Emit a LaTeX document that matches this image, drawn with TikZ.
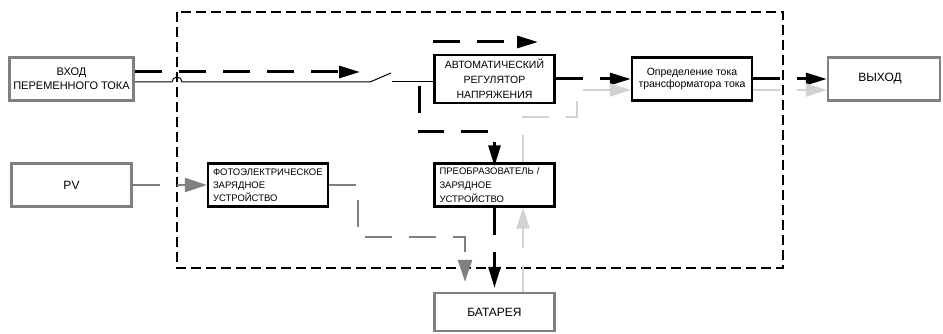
\documentclass[tikz,border=0pt]{standalone}
\usepackage{fontspec}
\setmainfont{Liberation Sans}
\usepackage{xcolor}
\definecolor{upsGris}{HTML}{808080}
\definecolor{upsGrisClair}{HTML}{D2D2D2}
\usetikzlibrary{arrows.meta, positioning}
\tikzset{
  %% -- Boxes -----------------------------------------------------------
  %% Black boxes sit inside the UPS frame, grey boxes are the outside world.
  bloc/.style        = {draw=black, line width=2.4pt, fill=white, align=center,
                        inner sep=4pt, minimum width=120pt, minimum height=43pt,
                        font=\fontsize{10}{14}\selectfont},
  blocExt/.style     = {bloc, draw=upsGris},
  blocGauche/.style  = {bloc, align=left, text width=110pt,
                        font=\fontsize{9.5}{13}\selectfont},
  %% -- Flows -----------------------------------------------------------
  fleche/.style      = {-{Triangle[length=21pt, width=12pt]}, draw=black,
                        line width=3pt, dash pattern=on 27pt off 17pt},
  flecheGris/.style  = {-{Triangle[length=22pt, width=14pt]}, draw=upsGris,
                        line width=2.6pt, dash pattern=on 27pt off 17pt},
  flecheClair/.style = {-{Triangle[length=21pt, width=13pt]}, draw=upsGrisClair,
                        line width=2.6pt, dash pattern=on 27pt off 17pt},
  fil/.style         = {draw=black, line width=1pt},
  cadre/.style       = {draw=black, line width=1.3pt, dash pattern=on 10pt off 5pt},
}

\begin{document}
\begin{tikzpicture}[x=1pt, y=-1pt]

\useasboundingbox (0,0) rectangle (943,334);

%% UPS frame
\draw[cadre] (177,12) rectangle (783,268);

\node[blocExt, font=\fontsize{11}{14}\selectfont] (entree) at (71.5,79)
     {ВХОД\\ПЕРЕМЕННОГО ТОКА};
\node[blocExt, font=\fontsize{12}{14}\selectfont] (pv) at (71.5,185) {PV};

\node[bloc, font=\fontsize{10.5}{15}\selectfont] (avr) at (494.5,79)
     {АВТОМАТИЧЕСКИЙ\\РЕГУЛЯТОР\\НАПРЯЖЕНИЯ};
\node[bloc, font=\fontsize{10.5}{12.5}\selectfont] (tt) at (692,79)
     {Определение тока\\трансформатора тока};
\node[blocExt, minimum width=112pt, font=\fontsize{12}{14}\selectfont] (sortie)
     at (884,79) {ВЫХОД\hspace{8pt}};

\node[blocGauche] (chargeurPV) at (268,185)
     {ФОТОЭЛЕКТРИЧЕСКОЕ\\ЗАРЯДНОЕ\\УСТРОЙСТВО};
\node[blocGauche, font=\fontsize{9.5}{14}\selectfont] (onduleur) at (494.5,185)
     {ПРЕОБРАЗОВАТЕЛЬ /\\ЗАРЯДНОЕ\\УСТРОЙСТВО};

\node[blocExt, minimum height=38pt, font=\fontsize{12}{14}\selectfont] (batterie)
     at (494.5,312) {БАТАРЕЯ};

%% bend points
\coordinate (commutA) at (370,82);
\coordinate (commutB) at (391,73);
\coordinate (commutC) at (392,82);
\coordinate (versCommut) at (360,72);
\coordinate (hautA) at (433,42);
\coordinate (hautB) at (538,42);
\coordinate (derive) at (419,86);
\coordinate (deriveB) at (419,132);
\coordinate (clairA) at (523,117);
\coordinate (clairB) at (577,90);
\coordinate (grisA) at (358,237);
\coordinate (grisB) at (465,237);

%% mains line with its bypass switch
\draw[fil] (entree.east |- commutA) -- (172,82) arc (180:360:5) -- (commutA) -- (commutB);
\draw[fil] (commutC) -- (avr.west |- commutC);

\draw[fleche] (entree.east |- versCommut) -- (versCommut);
\draw[fleche] (hautA) -- (hautB);
\draw[fleche] (avr) -- (tt);
\draw[fleche] (tt) -- (sortie);
\draw[fleche] (derive) -- (deriveB) -| ([yshift=-4pt]onduleur.north);
\draw[fleche] (onduleur.south) -- ([yshift=4pt]batterie.north);

\draw[flecheGris] (pv) -- (chargeurPV);
\draw[flecheGris] (chargeurPV.east) -| (grisA) -- (grisB) -- ([yshift=10pt]grisB |- batterie.north);

\draw[flecheClair] (batterie.north -| clairA) -- (onduleur.south -| clairA);
\draw[flecheClair] (onduleur.north -| clairA) -- (clairA) -| (clairB) -- (tt.west |- clairB);
\draw[flecheClair] (tt.east |- clairB) -- (sortie.west |- clairB);

\end{tikzpicture}
\end{document}
